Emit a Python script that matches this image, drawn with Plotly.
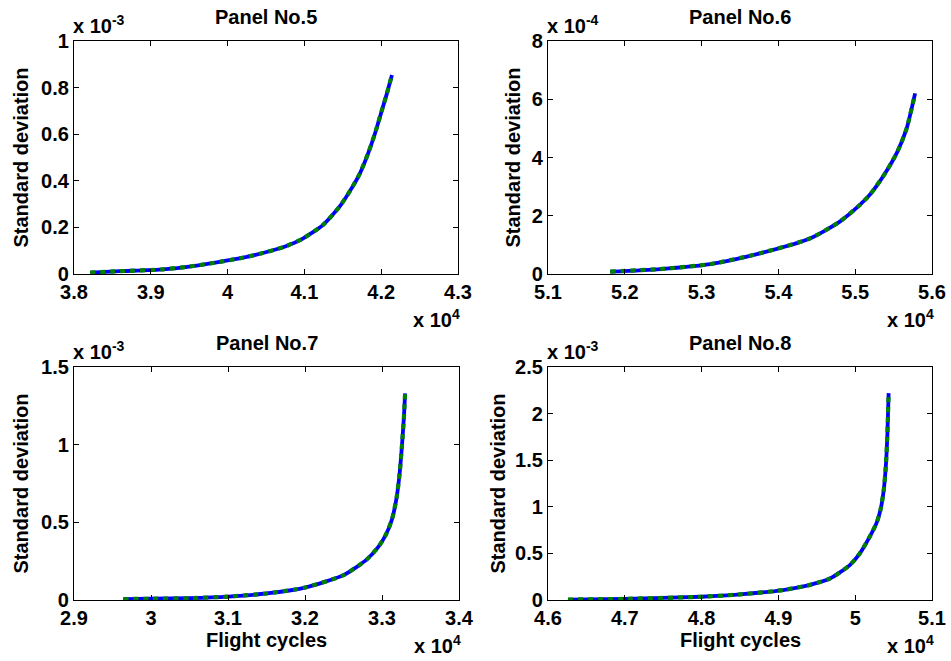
import plotly.graph_objects as go

# ---- data (x in flight cycles, y = standard deviation) ----
x5 = [38210, 38600, 39160, 39500, 39860, 40200, 40460, 40750, 40980, 41240, 41460, 41600, 41720, 41830, 41920, 42010, 42070, 42140]
y5 = [0.006e-3, 0.012e-3, 0.020e-3, 0.032e-3, 0.050e-3, 0.070e-3, 0.090e-3, 0.118e-3, 0.152e-3, 0.210e-3, 0.290e-3, 0.360e-3, 0.430e-3, 0.518e-3, 0.604e-3, 0.704e-3, 0.770e-3, 0.854e-3]

x6 = [51810, 52460, 53110, 53760, 54410, 54800, 55060, 55200, 55400, 55550, 55670, 55780]
y6 = [0.08e-4, 0.17e-4, 0.34e-4, 0.71e-4, 1.22e-4, 1.80e-4, 2.37e-4, 2.75e-4, 3.50e-4, 4.20e-4, 5.00e-4, 6.20e-4]

x7 = [29640, 30000, 30500, 31000, 31500, 32000, 32500, 32800, 32950, 33050, 33130, 33190, 33230, 33260, 33285, 33300]
y7 = [0.006e-3, 0.008e-3, 0.012e-3, 0.022e-3, 0.042e-3, 0.080e-3, 0.160e-3, 0.260e-3, 0.340e-3, 0.420e-3, 0.520e-3, 0.660e-3, 0.820e-3, 1.000e-3, 1.180e-3, 1.330e-3]

x8 = [46260, 47000, 48000, 48500, 49060, 49400, 49670, 49930, 50060, 50190, 50280, 50330, 50370, 50400, 50420, 50435]
y8 = [0.005e-3, 0.012e-3, 0.035e-3, 0.060e-3, 0.107e-3, 0.160e-3, 0.230e-3, 0.375e-3, 0.500e-3, 0.680e-3, 0.830e-3, 0.970e-3, 1.170e-3, 1.450e-3, 1.800e-3, 2.220e-3]

titles = ["Panel No.5", "Panel No.6", "Panel No.7", "Panel No.8"]
x_ranges = [(3.8, 4.3), (5.1, 5.6), (2.9, 3.4), (4.6, 5.1)]
y_ranges = [(0, 1), (0, 8), (0, 1.5), (0, 2.5)]
y_dticks = [0.2, 2, 0.5, 0.5]
y_exps = ["-3", "-4", "-3", "-3"]
y_scales = [1e-3, 1e-4, 1e-3, 1e-3]
x_scale = 1e4
ylabel = "Standard deviation"
xlabel = "Flight cycles"

W, H = 951, 661
# panel pixel boxes (left, right, top, bottom)
boxes = [(74, 458, 41, 274), (548, 932, 41, 274), (74, 459, 367, 600), (548, 932, 367, 600)]
ylab_x = [20, 512, 20, 497]

FONT = "Liberation Sans, Arial, sans-serif"
fig = go.Figure()
data = [(x5, y5), (x6, y6), (x7, y7), (x8, y8)]
ann = []
for i, ((xs, ys), (l, r, t, b)) in enumerate(zip(data, boxes)):
    n = i + 1
    xa = "x" if n == 1 else f"x{n}"
    ya = "y" if n == 1 else f"y{n}"
    xd = [v / x_scale for v in xs]
    yd = [v / y_scales[i] for v in ys]
    fig.add_trace(go.Scatter(x=xd, y=yd, mode="lines", xaxis=xa, yaxis=ya,
                             line=dict(color="#0000FF", width=3.8, shape="spline", smoothing=0.6),
                             showlegend=False, hoverinfo="skip"))
    fig.add_trace(go.Scatter(x=xd, y=yd, mode="lines", xaxis=xa, yaxis=ya,
                             line=dict(color="#008000", width=4.2, dash="5px,5px", shape="spline", smoothing=0.6),
                             showlegend=False, hoverinfo="skip"))
    axcommon = dict(showline=True, linecolor="black", linewidth=1.3, mirror="ticks",
                    ticks="inside", ticklen=5, tickcolor="black", showgrid=False,
                    zeroline=False, automargin=False,
                    tickfont=dict(family=FONT, size=20, color="black", weight="bold"))
    fig.layout[("xaxis" if n == 1 else f"xaxis{n}")] = dict(
        domain=[l / W, r / W], range=list(x_ranges[i]), dtick=0.1, tick0=0,
        anchor=ya, **axcommon)
    fig.layout[("yaxis" if n == 1 else f"yaxis{n}")] = dict(
        domain=[1 - b / H, 1 - t / H], range=list(y_ranges[i]), dtick=y_dticks[i], tick0=0,
        anchor=xa, **axcommon)
    cx = (l + r) / 2
    ann.append(dict(text=titles[i], x=cx / W, y=1 - (t - 24) / H, xref="paper", yref="paper",
                    xanchor="center", yanchor="middle", showarrow=False,
                    font=dict(family=FONT, size=20, color="black", weight="bold")))
    ann.append(dict(text=f"x 10<sup>{y_exps[i]}</sup>", x=(l - 3) / W, y=1 - (t - 2) / H, xref="paper", yref="paper",
                    xanchor="left", yanchor="bottom", showarrow=False,
                    font=dict(family=FONT, size=20, color="black", weight="bold")))
    ann.append(dict(text="x 10<sup>4</sup>", x=(r + 4) / W, y=1 - (b + 44) / H, xref="paper", yref="paper",
                    xanchor="right", yanchor="middle", showarrow=False,
                    font=dict(family=FONT, size=20, color="black", weight="bold")))
    ann.append(dict(text=ylabel, x=ylab_x[i] / W, y=1 - ((t + b) / 2) / H, xref="paper", yref="paper",
                    xanchor="center", yanchor="middle", textangle=-90, showarrow=False,
                    font=dict(family=FONT, size=20, color="black", weight="bold")))
    if n >= 3:
        ann.append(dict(text=xlabel, x=cx / W, y=1 - (b + 40) / H, xref="paper", yref="paper",
                        xanchor="center", yanchor="middle", showarrow=False,
                        font=dict(family=FONT, size=20, color="black", weight="bold")))

fig.update_layout(template="none", width=W, height=H, margin=dict(l=0, r=0, t=0, b=0, pad=0),
                  paper_bgcolor="white", plot_bgcolor="white", annotations=ann)
fig.write_html("out.html", config={"displayModeBar": False},
               post_script="document.body.style.margin='0px';document.body.style.overflow='hidden';")
